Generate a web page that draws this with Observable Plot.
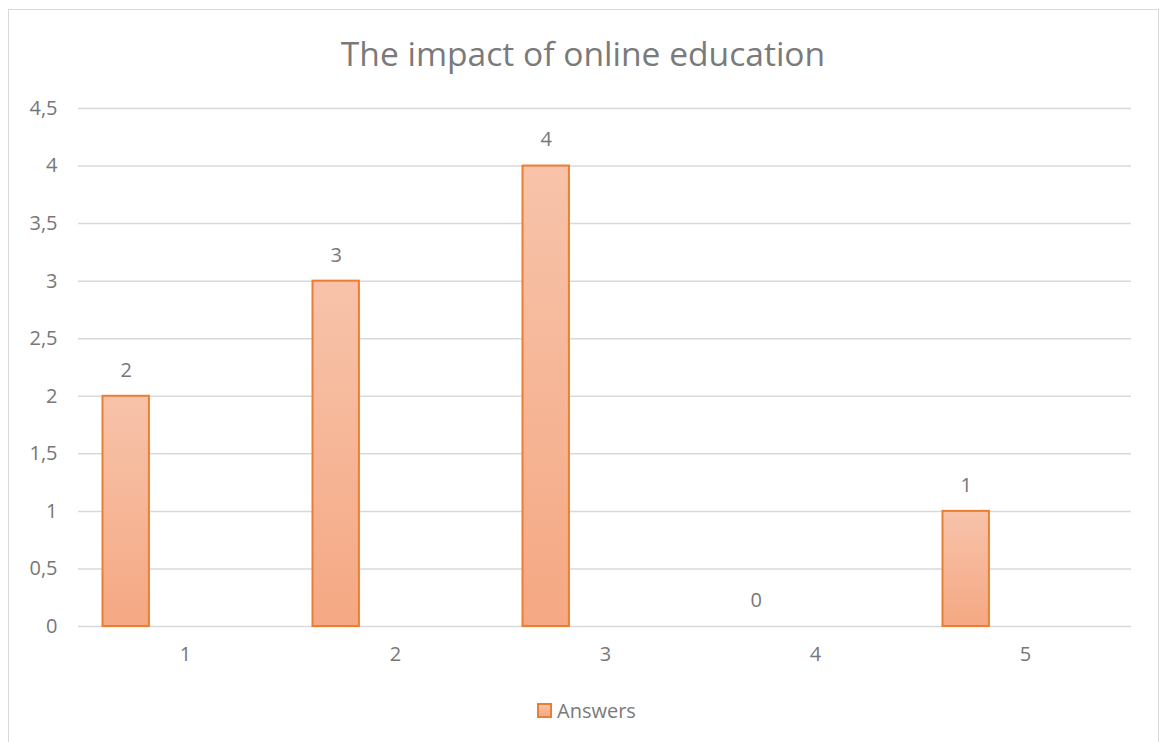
<!DOCTYPE html>
<html>
<head>
<meta charset="utf-8">
<script src="https://cdn.jsdelivr.net/npm/d3@7"></script>
<script src="https://cdn.jsdelivr.net/npm/@observablehq/plot@0.6"></script>
<style>
  html, body { margin: 0; padding: 0; background: #fff; }
  body { width: 1159px; height: 742px; position: relative; overflow: hidden; font-family: "Open Sans", sans-serif; }
  #frame { position: absolute; left: 8px; top: 9px; width: 1151px; height: 740px; border: 1px solid #d9d9d9; box-sizing: border-box; }
  #title { position: absolute; left: 8px; width: 1150px; top: 37px; line-height: 1; text-align: center; font-size: 33.6px; color: #7a7a7a; font-weight: 400; white-space: nowrap; }
  #chart { position: absolute; left: 0; top: 90px; }
  #legend-sw { position: absolute; left: 537px; top: 703px; width: 15px; height: 15px; box-sizing: border-box; border: 2px solid #ED7D31; background: linear-gradient(#F7C3AA, #F5A883); }
  #legend-tx { position: absolute; left: 557px; top: 701px; line-height: 1; font-size: 20px; color: #7a7a7a; white-space: nowrap; }
</style>
</head>
<body>
<div id="frame"></div>
<div id="title">The impact of online education</div>
<div id="chart"></div>
<div id="legend-sw"></div>
<div id="legend-tx">Answers</div>
<script>
const categories = ["1", "2", "3", "4", "5"];
const answers = [2, 3, 4, 0, 1];
const yTicks = [0, 0.5, 1, 1.5, 2, 2.5, 3, 3.5, 4, 4.5];
const seriesName = "Answers";

const data = categories.map((c, i) => ({category: c, value: answers[i], series: seriesName}));

const W = 1159, H = 600;
const mL = 78, mR = 28, mT = 18, mB = 64;
const band = (W - mL - mR) / categories.length;
const barLeft = 22.5, barW = 47;
const offset = barLeft + barW / 2 - band / 2;

const fmt = d => String(d).replace(".", ",");
const txt = "#777777";

const plot = Plot.plot({
  width: W,
  height: H,
  marginLeft: mL,
  marginRight: mR,
  marginTop: mT,
  marginBottom: mB,
  style: {fontFamily: "'Open Sans', sans-serif", fontSize: "20px", color: txt, background: "transparent"},
  x: {domain: categories, padding: 0, label: null},
  y: {domain: [0, 4.5], label: null},
  marks: [
    Plot.ruleY(yTicks, {stroke: "#d9d9d9", strokeWidth: 1.5, strokeOpacity: 1}),
    Plot.barY(data, {x: "category", y: "value", fill: "url(#barGrad)", stroke: "#ED7D31", strokeWidth: 2,
      insetLeft: barLeft, insetRight: band - barLeft - barW}),
    Plot.text(data, {x: "category", y: "value", text: d => fmt(d.value), dx: offset, dy: -26, fill: txt, fontSize: 20}),
    Plot.axisY(yTicks, {tickSize: 0, tickPadding: 21, tickFormat: fmt, fontSize: 20, fill: txt}),
    Plot.axisX({tickSize: 0, tickPadding: 20, fontSize: 20, fill: txt})
  ]
});

const defs = d3.select(plot).insert("defs", ":first-child");
const g = defs.append("linearGradient").attr("id", "barGrad").attr("x1", 0).attr("y1", 0).attr("x2", 0).attr("y2", 1);
g.append("stop").attr("offset", "0%").attr("stop-color", "#F7C3AA");
g.append("stop").attr("offset", "100%").attr("stop-color", "#F5A883");

document.getElementById("chart").appendChild(plot);
</script>
</body>
</html>
